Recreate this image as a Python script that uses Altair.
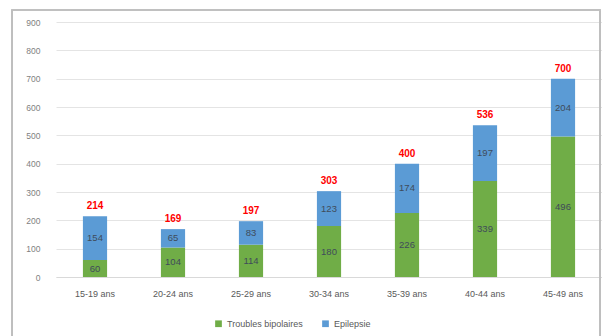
import altair as alt
import pandas as pd

# Age groups and case counts per condition
groups = ["15-19 ans", "20-24 ans", "25-29 ans", "30-34 ans", "35-39 ans", "40-44 ans", "45-49 ans"]
bipolaires = [60, 104, 114, 180, 226, 339, 496]
epilepsie = [154, 65, 83, 123, 174, 197, 204]
y_ticks = [0, 100, 200, 300, 400, 500, 600, 700, 800, 900]

series = ["Troubles bipolaires", "Epilepsie"]
colors = ["#70AD47", "#5B9BD5"]

rows = []
for g, b, e in zip(groups, bipolaires, epilepsie):
    rows.append({"groupe": g, "serie": series[0], "valeur": b, "ordre": 0})
    rows.append({"groupe": g, "serie": series[1], "valeur": e, "ordre": 1})
df = pd.DataFrame(rows)

totals = pd.DataFrame({"groupe": groups,
                       "total": [b + e for b, e in zip(bipolaires, epilepsie)]})

FONT = "Liberation Sans"
W, H = 546, 255

# shared axis/scale definitions, identical in every layer
x_axis = alt.Axis(labelAngle=0, labelFontSize=9, labelColor="#595959",
                  labelFont=FONT, domainColor="#D9D9D9", ticks=False,
                  labelPadding=12, title=None)
x_scale = alt.Scale(paddingInner=0.69, paddingOuter=0.345)
y_axis = alt.Axis(values=y_ticks, labelFontSize=8.5, labelColor="#7F7F7F",
                  labelFont=FONT, domain=False, ticks=False, gridColor="#E4E4E4",
                  labelPadding=16, labelOverlap=False, title=None)
y_scale = alt.Scale(domain=[0, 900], nice=False)


def xe():
    return alt.X("groupe:N", sort=groups, scale=x_scale, axis=x_axis, title=None)


bars = alt.Chart(df).mark_bar().encode(
    x=xe(),
    y=alt.Y("valeur:Q", stack="zero", scale=y_scale, axis=y_axis, title=None),
    color=alt.Color("serie:N", sort=series,
                    scale=alt.Scale(domain=series, range=colors),
                    legend=alt.Legend(title=None, orient="none", direction="horizontal",
                                      legendX=158, legendY=297, symbolType="square",
                                      symbolSize=45, symbolStrokeWidth=0,
                                      labelFontSize=9, labelColor="#595959",
                                      labelFont=FONT, columnPadding=18)),
    order=alt.Order("ordre:Q"),
)

seg_labels = alt.Chart(df).transform_stack(
    stack="valeur", groupby=["groupe"], as_=["y0", "y1"],
    sort=[alt.SortField("ordre", order="ascending")]
).transform_calculate(
    mid="(datum.y0 + datum.y1) / 2"
).mark_text(fontSize=9.5, font=FONT, color="#3F4B5A", baseline="middle").encode(
    x=xe(),
    y=alt.Y("mid:Q", scale=y_scale, axis=y_axis, title=None),
    text="valeur:Q",
)

total_labels = alt.Chart(totals).mark_text(
    fontSize=10, font=FONT, fontWeight="bold", color="#FF0000", dy=-10
).encode(
    x=xe(),
    y=alt.Y("total:Q", scale=y_scale, axis=y_axis, title=None),
    text="total:Q",
)

frame = alt.Chart(totals).mark_rect(fill=None, stroke="#BFBFBF", strokeWidth=1.2).encode(
    x=alt.value(-44), x2=alt.value(544), y=alt.value(-12), y2=alt.value(330)
)

chart = alt.layer(frame, bars, seg_labels, total_labels).properties(
    width=W, height=H,
    padding={"left": 56, "top": 22, "right": 0, "bottom": 59},
    autosize=alt.AutoSizeParams(type="none"),
    background="white",
).configure_view(stroke=None)

chart.save("out.html", embed_options={"renderer": "svg", "actions": False})
